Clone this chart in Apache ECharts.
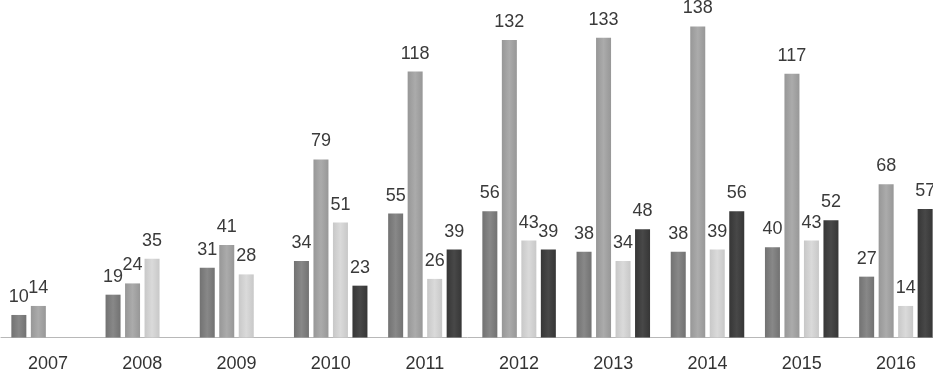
<!DOCTYPE html>
<html>
<head>
<meta charset="utf-8">
<script src="https://cdn.jsdelivr.net/npm/echarts@6/dist/echarts.min.js"></script>
<style>html,body{margin:0;padding:0;background:#fff;}#c{width:933px;height:369px;}</style>
</head>
<body>
<div id="c"></div>
<script>
var categories = ['2007','2008','2009','2010','2011','2012','2013','2014','2015','2016'];
var seriesA = [10, 19, 31, 34, 55, 56, 38, 38, 40, 27];
var seriesB = [14, 24, 41, 79, 118, 132, 133, 138, 117, 68];
var seriesC = [null, 35, 28, 51, 26, 43, 34, 39, 43, 14];
var seriesD = [null, null, null, 23, 39, 39, 48, 56, 52, 57];

function grad(edge, mid) {
  return new echarts.graphic.LinearGradient(0, 0, 1, 0, [
    {offset: 0, color: edge}, {offset: 0.5, color: mid}, {offset: 1, color: edge}
  ]);
}
var labelStyle = {show: true, position: 'top', distance: 9, fontFamily: 'Liberation Sans', fontSize: 18, color: '#3a3a3a'};
function mk(data, edge, mid) {
  return {type: 'bar', data: data, barWidth: 15, barGap: '30%',
    itemStyle: {color: grad(edge, mid)}, label: labelStyle};
}
var chart = echarts.init(document.getElementById('c'));
chart.setOption({
  animation: false,
  backgroundColor: '#fff',
  grid: {left: 1, right: -10, top: 22, bottom: 31.5, containLabel: false, outerBoundsMode: 'none'},
  xAxis: {type: 'category', data: categories,
    axisLine: {lineStyle: {color: '#b8b8b8'}},
    axisTick: {length: 5, lineStyle: {color: '#b8b8b8'}},
    axisLabel: {fontFamily: 'Liberation Sans', fontSize: 18, color: '#333', margin: 18}},
  yAxis: {type: 'value', min: 0, max: 140, show: false, splitLine: {show: false}},
  series: [
    mk(seriesA, '#727272', '#888888'),
    mk(seriesB, '#979797', '#ababab'),
    mk(seriesC, '#c8c8c8', '#dadada'),
    mk(seriesD, '#363636', '#484848')
  ]
});
</script>
</body>
</html>
